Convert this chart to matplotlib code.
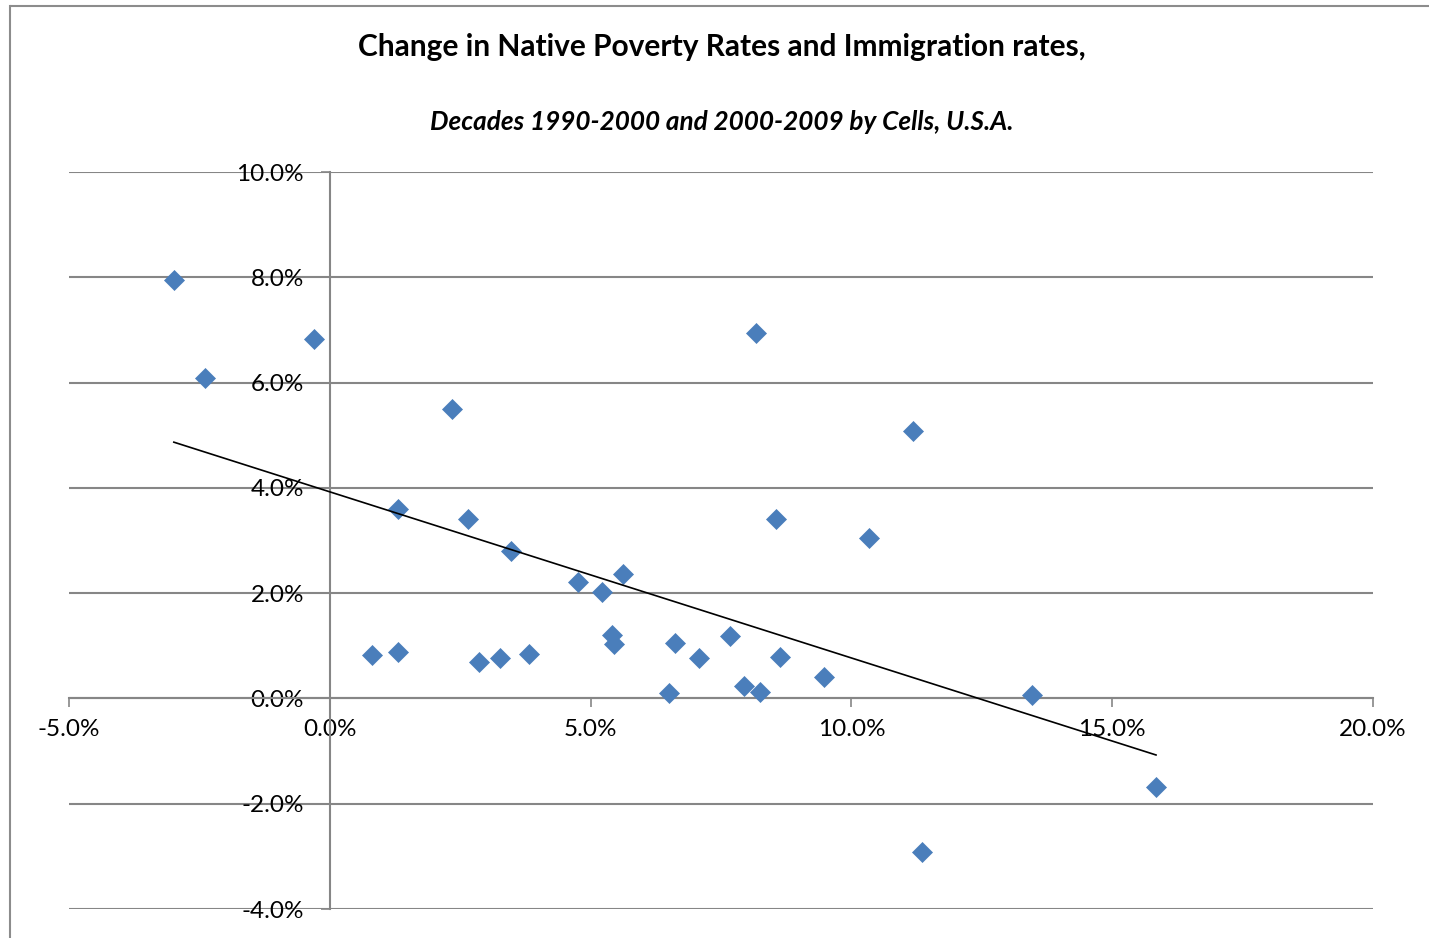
"""Change in native poverty rates vs. immigration rates, by cells (U.S.A.)."""

import matplotlib

matplotlib.use("Agg")
import matplotlib.pyplot as plt
import numpy as np
from matplotlib.lines import Line2D
from matplotlib.ticker import PercentFormatter

# immigration rate change (x) and native poverty rate change (y), in %
immig_change = [
    -2.99, -2.39, -0.30, 0.81, 1.31, 1.31, 2.34, 2.64, 2.86, 3.27, 3.47,
    3.81, 4.76, 5.21, 5.41, 5.45, 5.62, 6.51, 6.62, 7.07, 7.67, 7.95,
    8.17, 8.25, 8.55, 8.64, 9.47, 10.34, 11.18, 11.36, 13.46, 15.84,
]
poverty_change = [
    7.95, 6.08, 6.82, 0.82, 3.59, 0.89, 5.50, 3.41, 0.70, 0.76, 2.81,
    0.84, 2.22, 2.02, 1.20, 1.03, 2.36, 0.11, 1.06, 0.77, 1.18, 0.23,
    6.94, 0.13, 3.40, 0.78, 0.41, 3.05, 5.08, -2.91, 0.07, -1.68,
]
x_ticks = [-5, 0, 5, 10, 15, 20]
y_ticks = [-4, -2, 0, 2, 4, 6, 8, 10]

TITLE = "Change in Native Poverty Rates and Immigration rates,"
SUBTITLE = "Decades 1990-2000 and 2000-2009 by Cells, U.S.A."

GREY = "#868686"
BLUE = "#4a7ebb"

plt.rcParams["font.family"] = ["Lato", "DejaVu Sans"]
plt.rcParams["axes.unicode_minus"] = False  # plain hyphen, as in Excel

x = np.array(immig_change) / 100
y = np.array(poverty_change) / 100

fig = plt.figure(figsize=(14.29, 9.38), dpi=100)
ax = fig.add_axes([69 / 1429, 29 / 938, 1304 / 1429, 737 / 938])

ax.set_xlim(x_ticks[0] / 100, x_ticks[-1] / 100)
ax.set_ylim(y_ticks[0] / 100, y_ticks[-1] / 100)
ax.set_xticks(np.array(x_ticks) / 100)
ax.set_yticks(np.array(y_ticks) / 100)
ax.xaxis.set_major_formatter(PercentFormatter(xmax=1, decimals=1))
ax.yaxis.set_major_formatter(PercentFormatter(xmax=1, decimals=1))

ax.set_axisbelow(True)
ax.yaxis.grid(True, color=GREY, linewidth=1.5)

# axes cross at the origin, like the Excel default
for side in ("top", "right"):
    ax.spines[side].set_visible(False)
for side in ("left", "bottom"):
    ax.spines[side].set_position(("data", 0))
    ax.spines[side].set_color(GREY)
    ax.spines[side].set_linewidth(1.5)

ax.tick_params(axis="both", direction="out", length=6.5, width=1.2,
               color=GREY, labelsize=17.5, labelcolor="black")
ax.tick_params(axis="y", pad=12)
ax.tick_params(axis="x", pad=8)

ax.plot(x, y, linestyle="none", marker="D", markersize=10,
        markerfacecolor=BLUE, markeredgecolor=BLUE, markeredgewidth=0.5,
        zorder=3)

# linear trend line over the data range
slope, intercept = np.polyfit(x, y, 1)
trend_x = np.array([x.min(), x.max()])
ax.plot(trend_x, slope * trend_x + intercept, color="black", linewidth=1.2, zorder=4)

fig.text(722 / 1429, 1 - 47 / 938, TITLE, ha="center", va="center",
         fontsize=21.5, fontweight="bold")
fig.text(722 / 1429, 1 - 122 / 938, SUBTITLE, ha="center", va="center",
         fontsize=18.8, fontweight="bold", fontstyle="italic")

# chart area frame: only its left and top edges are in view
frame_x = 9.5 / 1429
frame_top = 1 - 6 / 938
fig.add_artist(Line2D([frame_x, frame_x], [0, frame_top], transform=fig.transFigure,
                      color="#8c8c8c", linewidth=1.5))
fig.add_artist(Line2D([frame_x, 1.01], [frame_top, frame_top], transform=fig.transFigure,
                      color="#8c8c8c", linewidth=1.5, solid_capstyle="butt"))

fig.savefig("out.png", dpi=100)
plt.close(fig)
